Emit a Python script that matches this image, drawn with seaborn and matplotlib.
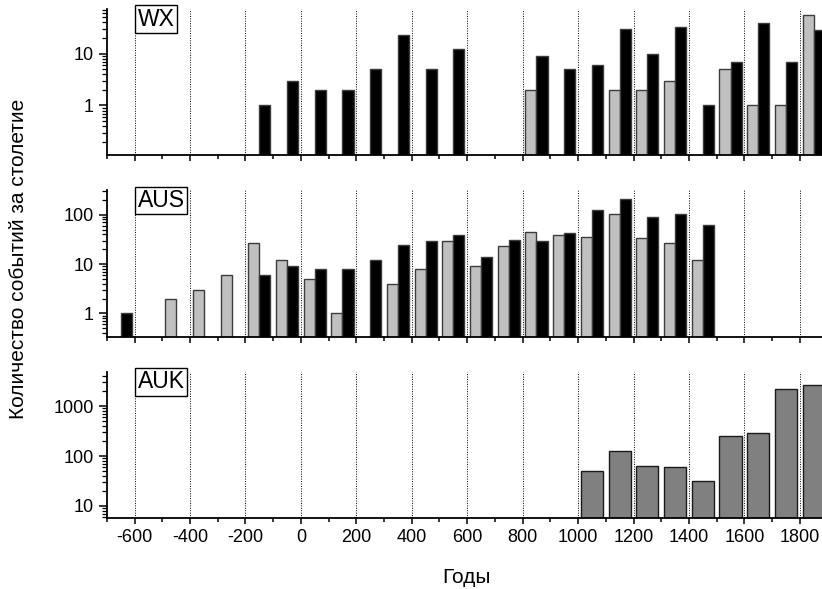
import numpy as np
import pandas as pd
import seaborn as sns
import matplotlib
matplotlib.use("Agg")
import matplotlib.pyplot as plt
from matplotlib.ticker import FuncFormatter, MultipleLocator, LogLocator

nan = np.nan

# Century midpoints (years)
years = [-650, -550, -450, -350, -250, -150, -50, 50, 150, 250, 350, 450, 550,
         650, 750, 850, 950, 1050, 1150, 1250, 1350, 1450, 1550, 1650, 1750, 1850]

# WX panel
wx_grey = [nan, nan, nan, nan, nan, nan, nan, nan, nan, nan, nan, nan, nan,
           nan, nan, 2, nan, nan, 2, 2, 3, nan, 5, 1, 1, 55]
wx_black = [nan, nan, nan, nan, nan, 1, 3, 2, 2, 5, 23, 5, 12,
            nan, nan, 9, 5, 6, 30, 10, 32, 1, 7, 39, 7, 29]

# AUS panel
aus_grey = [nan, nan, 2, 3, 6, 27, 12, 5, 1, nan, 4, 8, 29,
            9, 23, 44, 39, 35, 105, 33, 27, 12, nan, nan, nan, nan]
aus_black = [1, nan, nan, nan, nan, 6, 9, 8, 8, 12, 24, 29, 38,
             14, 31, 29, 42, 124, 211, 89, 103, 62, nan, nan, nan, nan]

# AUK panel
auk = [nan, nan, nan, nan, nan, nan, nan, nan, nan, nan, nan, nan, nan,
       nan, nan, nan, nan, 50, 128, 62, 60, 32, 256, 294, 2228, 2680]

panel_names = ["WX", "AUS", "AUK"]
ylims = [(0.11, 72), (0.34, 310), (5.7, 4900)]

sns.set_style("ticks")
plt.rcParams["font.family"] = ["Liberation Sans", "DejaVu Sans"]
plt.rcParams["axes.unicode_minus"] = False
for key in ["text.color", "axes.labelcolor", "xtick.color", "ytick.color", "axes.edgecolor"]:
    plt.rcParams[key] = "black"

fig, axes = plt.subplots(3, 1, figsize=(8.22, 5.89), dpi=100)
fig.subplots_adjust(left=0.130, right=1.0, bottom=0.1205, top=0.9847, hspace=0.24)


def pair_frame(grey, black):
    return pd.DataFrame({
        "year": years * 2,
        "series": ["grey"] * len(years) + ["black"] * len(years),
        "count": list(grey) + list(black),
    }).dropna()


frames = [pair_frame(wx_grey, wx_black), pair_frame(aus_grey, aus_black)]

for i, ax in enumerate(axes):
    if i < 2:
        sns.barplot(data=frames[i], x="year", y="count", hue="series",
                    hue_order=["grey", "black"],
                    palette={"grey": "#c0c0c0", "black": "black"},
                    native_scale=True, width=0.8, errorbar=None,
                    edgecolor="#3c3c3c", linewidth=1, legend=False, ax=ax)
    else:
        df = pd.DataFrame({"year": years, "count": auk}).dropna()
        sns.barplot(data=df, x="year", y="count", color="#808080",
                    native_scale=True, width=0.8, errorbar=None,
                    edgecolor="#1a1a1a", linewidth=1, saturation=1, ax=ax)
    ax.set_yscale("log")
    ax.set_ylim(*ylims[i])
    ax.set_xlim(-700, 1880)
    ax.xaxis.set_major_locator(MultipleLocator(200))
    ax.xaxis.set_minor_locator(MultipleLocator(100))
    ax.yaxis.set_major_locator(LogLocator(base=10))
    ax.yaxis.set_minor_locator(LogLocator(base=10, subs=np.arange(2, 10)))
    ax.yaxis.set_major_formatter(FuncFormatter(lambda v, _: f"{v:g}"))
    ax.yaxis.set_minor_formatter(FuncFormatter(lambda v, _: ""))
    ax.grid(axis="x", which="major", linestyle=(0, (1, 1.5)), color="black", linewidth=0.7)
    ax.set_axisbelow(True)
    sns.despine(ax=ax)
    for s in ["left", "bottom"]:
        ax.spines[s].set_linewidth(1.3)
    ax.tick_params(axis="x", which="major", direction="out", length=4.5, width=1.1, labelsize=13)
    ax.tick_params(axis="x", which="minor", direction="out", length=3, width=1.1)
    ax.tick_params(axis="y", which="major", direction="out", length=6, width=1.1, labelsize=13)
    ax.tick_params(axis="y", which="minor", direction="out", length=3.5, width=0.9)
    ax.set_xlabel("")
    ax.set_ylabel("")
    if i < 2:
        ax.tick_params(axis="x", labelbottom=False)
    ax.text(0.043, 1.01, panel_names[i], transform=ax.transAxes, ha="left", va="top",
            fontsize=16.5, bbox=dict(boxstyle="square,pad=0.1", fc="white", ec="black", lw=1))

fig.text(0.567, 0.02, "Годы", ha="center", va="center", fontsize=15)
fig.text(0.023, 0.56, "Количество событий за столетие", ha="center", va="center",
         rotation=90, fontsize=15)

fig.savefig("out.png", dpi=100)
